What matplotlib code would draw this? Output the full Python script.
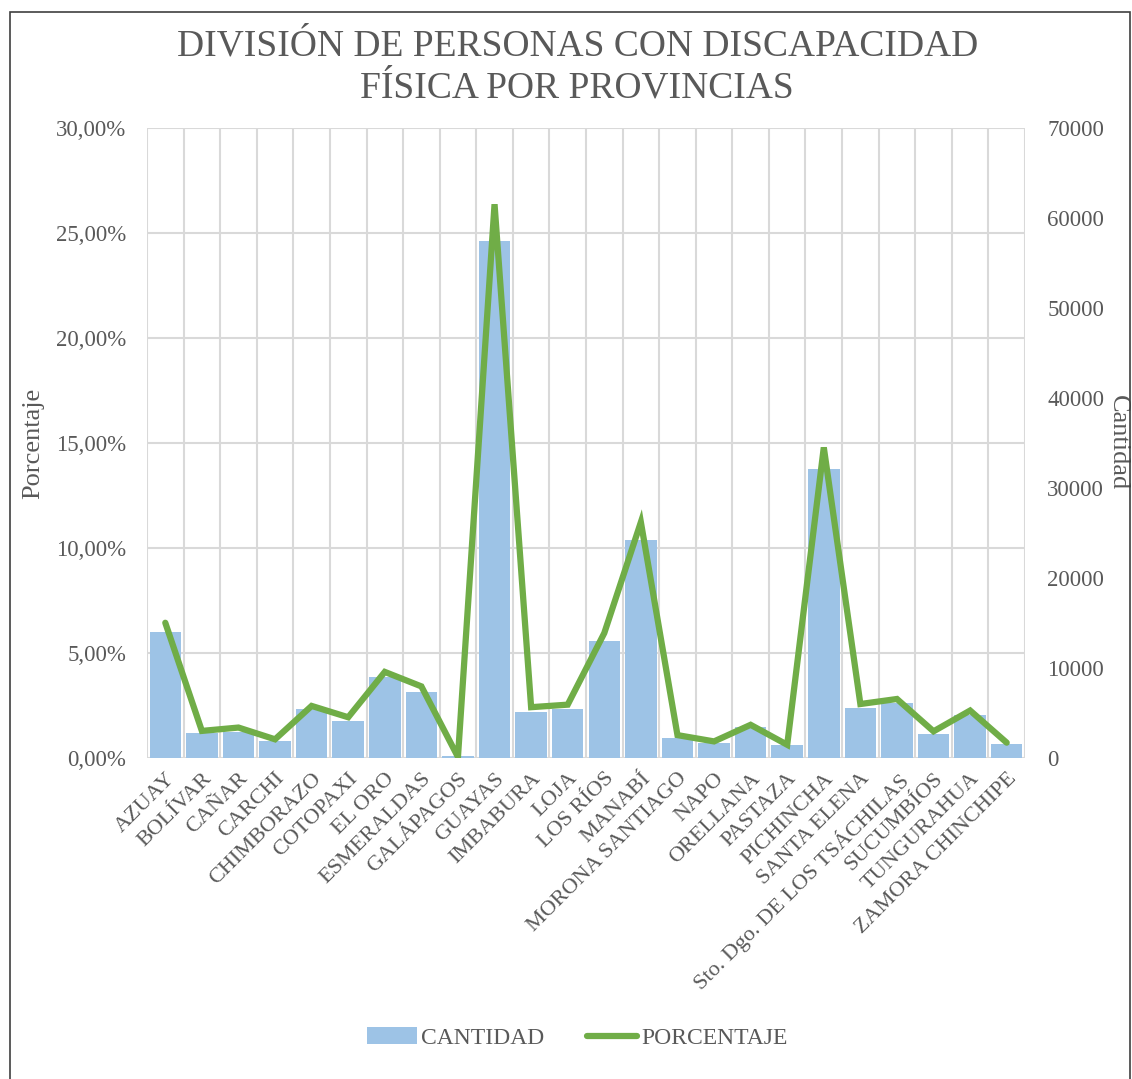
import numpy as np
import matplotlib.pyplot as plt
from matplotlib.patches import Rectangle
from matplotlib.ticker import FuncFormatter

plt.rcParams['font.family'] = ['Liberation Serif', 'DejaVu Serif']

# Data
provincias = ["AZUAY", "BOLÍVAR", "CAÑAR", "CARCHI", "CHIMBORAZO", "COTOPAXI",
              "EL ORO", "ESMERALDAS", "GALÁPAGOS", "GUAYAS", "IMBABURA", "LOJA",
              "LOS RÍOS", "MANABÍ", "MORONA SANTIAGO", "NAPO", "ORELLANA",
              "PASTAZA", "PICHINCHA", "SANTA ELENA", "Sto. Dgo. DE LOS TSÁCHILAS",
              "SUCUMBÍOS", "TUNGURAHUA", "ZAMORA CHINCHIPE"]
cantidad = [14000, 2750, 2900, 1900, 5450, 4150, 9000, 7300, 250, 57400,
            5150, 5500, 13050, 24250, 2250, 1700, 3400, 1400, 32100, 5600,
            6100, 2650, 4800, 1550]
porcentaje = [6.44, 1.29, 1.45, 0.89, 2.48, 1.94, 4.10, 3.41, 0.05, 26.37,
              2.42, 2.54, 5.95, 11.23, 1.09, 0.79, 1.58, 0.63, 14.79, 2.57,
              2.81, 1.27, 2.26, 0.73]

text_color = '#595959'
grid_color = '#D9D9D9'
bar_color = '#9DC3E6'
line_color = '#70AD47'

fig = plt.figure(figsize=(11.32, 10.79), dpi=100)
fig.patches.append(Rectangle((10 / 1132, -0.01), 1120 / 1132, 1 - 12 / 1079 + 0.01,
                             transform=fig.transFigure, fill=False,
                             edgecolor='#404040', linewidth=1.2))

ax = fig.add_axes([147 / 1132, 1 - 758 / 1079, (1025 - 147) / 1132, 630 / 1079])
ax2 = ax.twinx()

x = np.arange(len(provincias))

# bars on secondary axis (right), line on primary axis (left)
ax2.bar(x, cantidad, width=0.86, color=bar_color, zorder=2, label='CANTIDAD')
ax.set_zorder(ax2.get_zorder() + 1)
ax.patch.set_visible(False)
ax.plot(x, porcentaje, color=line_color, linewidth=4.5, solid_capstyle='round',
        solid_joinstyle='miter', zorder=3, label='PORCENTAJE')

ax.set_xlim(-0.5, len(provincias) - 0.5)
ax.set_ylim(0, 30)
ax2.set_ylim(0, 70000)
ax.set_yticks(np.arange(0, 31, 5))
ax2.set_yticks(np.arange(0, 70001, 10000))
ax.yaxis.set_major_formatter(FuncFormatter(lambda v, p: f"{v:.2f}%".replace('.', ',')))

# grid: horizontal lines and category boundaries
for yv in np.arange(5, 31, 5):
    ax2.axhline(yv / 30 * 70000, color=grid_color, linewidth=1.5, zorder=0)
for xb in np.arange(-0.5, len(provincias), 1):
    ax2.axvline(xb, color=grid_color, linewidth=1.5, zorder=0)
ax2.axhline(0, color=grid_color, linewidth=1.5, zorder=1)

for a in (ax, ax2):
    for s in a.spines.values():
        s.set_visible(False)
    a.tick_params(length=0, colors=text_color, labelsize=16.5)

ax.set_xticks(x)
ax.set_xticklabels(provincias, rotation=45, ha='right', rotation_mode='anchor',
                   fontsize=16, color=text_color)
ax.tick_params(axis='x', pad=8)
ax.tick_params(axis='y', pad=15)
ax2.tick_params(axis='y', pad=16)

ax.set_ylabel('Porcentaje', fontsize=19, color=text_color)
ax.yaxis.set_label_coords(-0.117, 0.5)
ax2.set_ylabel('Cantidad', fontsize=19, color=text_color, rotation=-90, va='center')
ax2.yaxis.set_label_coords(1.106, 0.5)

fig.text(0.51, 1 - 67 / 1079, 'DIVISIÓN DE PERSONAS CON DISCAPACIDAD\nFÍSICA POR PROVINCIAS',
         ha='center', va='center', fontsize=27, color=text_color, linespacing=1.3)

h1, l1 = ax2.get_legend_handles_labels()
h2, l2 = ax.get_legend_handles_labels()
fig.legend(h1 + h2, l1 + l2, loc='center', bbox_to_anchor=(0.51, 1 - 1038 / 1079),
           ncol=2, frameon=False, fontsize=17, labelcolor=text_color,
           handlelength=2.1, handletextpad=0.2, columnspacing=1.8)

fig.savefig('out.png', dpi=100)
